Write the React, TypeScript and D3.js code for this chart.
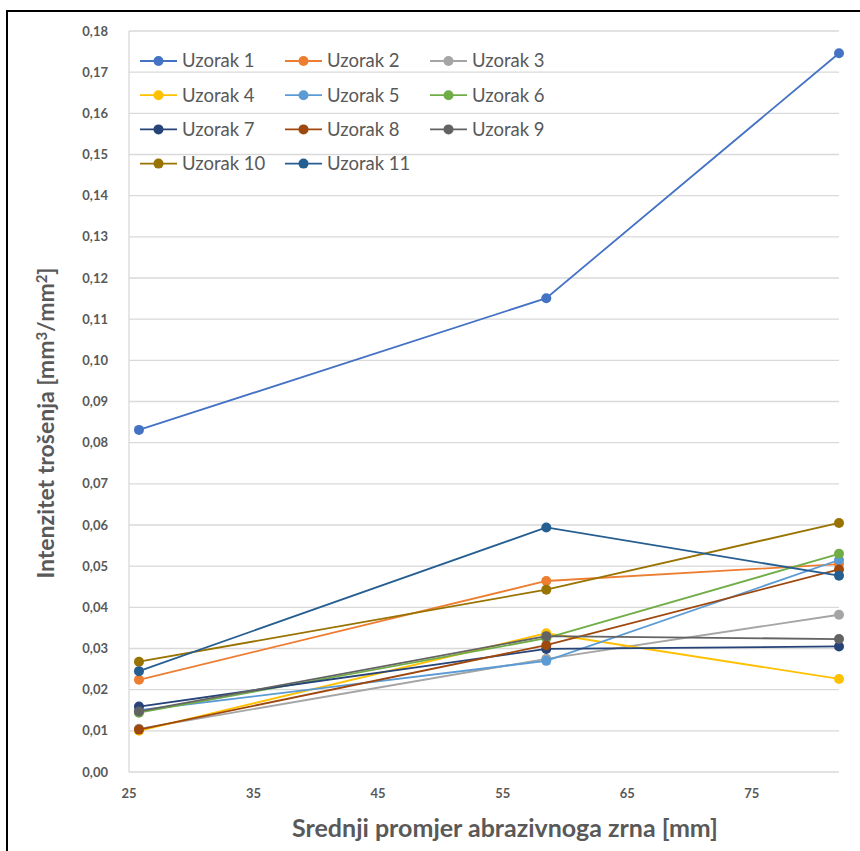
import React from "react";
import * as d3 from "d3";

const xValues = [25.8, 58.5, 82];
const seriesNames = ["Uzorak 1","Uzorak 2","Uzorak 3","Uzorak 4","Uzorak 5","Uzorak 6","Uzorak 7","Uzorak 8","Uzorak 9","Uzorak 10","Uzorak 11"];
const seriesColors = ["#4472C4","#ED7D31","#A5A5A5","#FFC000","#5B9BD5","#70AD47","#264478","#9E480E","#636363","#997300","#255E91"];
const u1 = [0.0831, 0.1151, 0.1746];
const u2 = [0.0224, 0.0464, 0.0505];
const u3 = [0.0105, 0.0275, 0.0382];
const u4 = [0.0100, 0.0337, 0.0226];
const u5 = [0.0150, 0.0270, 0.0515];
const u6 = [0.0144, 0.0325, 0.0530];
const u7 = [0.0159, 0.0299, 0.0305];
const u8 = [0.0103, 0.0308, 0.0492];
const u9 = [0.0147, 0.0330, 0.0323];
const u10 = [0.0268, 0.0443, 0.0605];
const u11 = [0.0245, 0.0594, 0.0477];
const seriesValues = [u1, u2, u3, u4, u5, u6, u7, u8, u9, u10, u11];
const xTicks = [25, 35, 45, 55, 65, 75];
const yTicks = d3.range(0, 19).map((i) => i / 100);

const W = 860, H = 851;
const left = 129, right = 839, top = 31, bottom = 772;
const FONT = "Lato, 'Open Sans', sans-serif";
const TXT = "#595959";

export default function App() {
  const x = d3.scaleLinear().domain([25, 82]).range([left, right]);
  const y = d3.scaleLinear().domain([0, 0.18]).range([bottom, top]);
  const line = d3.line<number>().x((_, i) => x(xValues[i])).y((d) => y(d));
  const fmt = (v: number) => v.toFixed(2).replace(".", ",");

  return (
    <svg width={W} height={H} style={{ position: "absolute", left: 0, top: 0, background: "#fff" }}>
      <rect x={0} y={0} width={W} height={H} fill="#fff" />
      <rect x={7} y={11} width={W + 20} height={H + 20} fill="none" stroke="#000" strokeWidth={2} />
      {yTicks.map((t) => (
        <line key={"g" + t} x1={left} x2={right} y1={y(t)} y2={y(t)} stroke="#D9D9D9" strokeWidth={1.3} />
      ))}
      <line x1={left} x2={left} y1={top} y2={bottom} stroke="#D9D9D9" strokeWidth={1.3} />
      {yTicks.map((t) => (
        <text key={"yl" + t} x={108} y={y(t)} dy="0.35em" textAnchor="end" fontFamily={FONT} fontWeight="bold" fontSize={13} fill={TXT}>
          {fmt(t)}
        </text>
      ))}
      {xTicks.map((t) => (
        <text key={"xl" + t} x={x(t)} y={798} textAnchor="middle" fontFamily={FONT} fontWeight="bold" fontSize={13} fill={TXT}>
          {t}
        </text>
      ))}
      <text x={505} y={837} textAnchor="middle" fontFamily={FONT} fontWeight="bold" fontSize={25} fill={TXT}>
        Srednji promjer abrazivnoga zrna [mm]
      </text>
      <text transform={`translate(54,423) rotate(-90)`} textAnchor="middle" fontFamily={FONT} fontWeight="bold" fontSize={23} fill={TXT}>
        Intenzitet trošenja [mm<tspan dy="-7" fontSize={15}>3</tspan><tspan dy="7">/mm</tspan><tspan dy="-7" fontSize={15}>2</tspan><tspan dy="7">]</tspan>
      </text>
      {seriesValues.map((vals, si) => (
        <g key={"s" + si}>
          <path d={line(vals) || ""} fill="none" stroke={seriesColors[si]} strokeWidth={1.8} />
          {vals.map((v, i) => (
            <circle key={i} cx={x(xValues[i])} cy={y(v)} r={5} fill={seriesColors[si]} />
          ))}
        </g>
      ))}
      {seriesNames.map((n, i) => {
        const col = i % 3, row = Math.floor(i / 3);
        const lx = 140 + col * 145, ly = 61 + row * 34.2;
        return (
          <g key={"lg" + i}>
            <line x1={lx} x2={lx + 37} y1={ly} y2={ly} stroke={seriesColors[i]} strokeWidth={1.8} />
            <circle cx={lx + 18.5} cy={ly} r={5} fill={seriesColors[i]} />
            <text x={lx + 42} y={ly} dy="0.35em" fontFamily={FONT} fontSize={18.5} fill={TXT}>{n}</text>
          </g>
        );
      })}
    </svg>
  );
}
